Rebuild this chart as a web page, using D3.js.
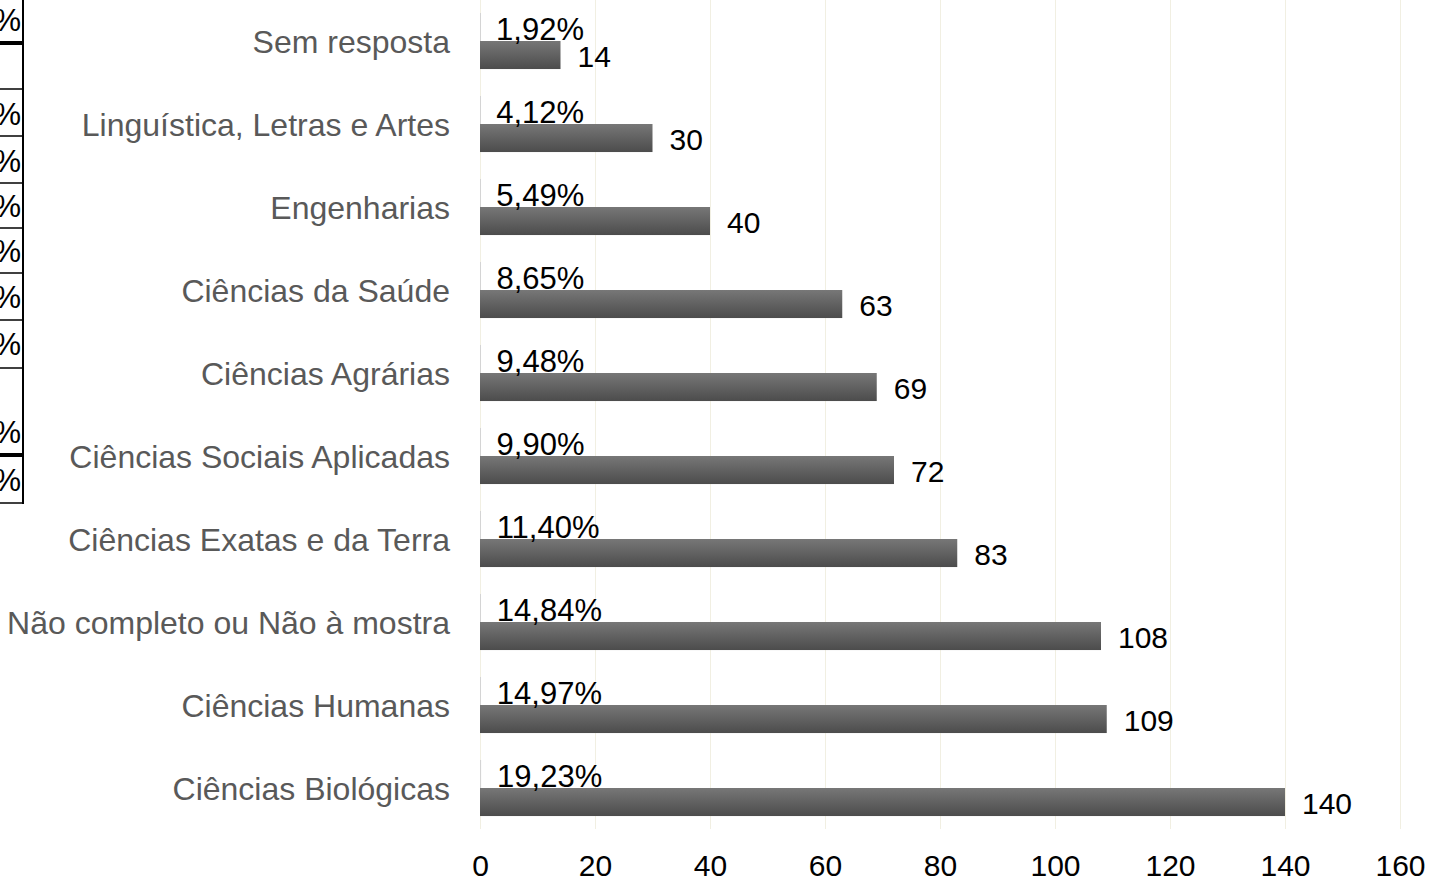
<!DOCTYPE html>
<html>
<head>
<meta charset="utf-8">
<script src="https://cdn.jsdelivr.net/npm/d3@7"></script>
<style>
  html, body { margin: 0; padding: 0; background: #fff; }
  svg { display: block; }
  text { font-family: "Liberation Sans", Arial, sans-serif; }
</style>
</head>
<body>
<svg id="chart" width="1432" height="882"></svg>
<script>
// ---- data ----
const categories = [
  "Sem resposta",
  "Linguística, Letras e Artes",
  "Engenharias",
  "Ciências da Saúde",
  "Ciências Agrárias",
  "Ciências Sociais Aplicadas",
  "Ciências Exatas e da Terra",
  "Não completo ou Não à mostra",
  "Ciências Humanas",
  "Ciências Biológicas"
];
const counts = [14, 30, 40, 63, 69, 72, 83, 108, 109, 140];
const shares = [0.0192, 0.0412, 0.0549, 0.0865, 0.0948, 0.0990, 0.1140, 0.1484, 0.1497, 0.1923];
const shareLabels = ["1,92%", "4,12%", "5,49%", "8,65%", "9,48%", "9,90%", "11,40%", "14,84%", "14,97%", "19,23%"];
const xTicks = [0, 20, 40, 60, 80, 100, 120, 140, 160];
// fragment of a neighbouring table cut off at the left edge
const tableRowLines = [89, 136, 183, 228, 273, 320, 368, 503];
const tableThickLines = [43, 455];
const tablePctBaselines = [31, 125, 172, 217, 262, 308, 355, 443, 491];

const svg = d3.select("#chart");

const x = d3.scaleLinear().domain([0, 160]).range([480, 1400]);
const y = d3.scaleBand().domain(categories).range([-0.5, 829.5]).paddingInner(0).paddingOuter(0);
const sub = d3.scaleBand().domain(["share", "count"]).range([0, y.bandwidth()]).paddingInner(0).paddingOuter(0.48);

// gradient
const defs = svg.append("defs");
const grad = defs.append("linearGradient").attr("id", "barGrad")
  .attr("x1", 0).attr("y1", 0).attr("x2", 0).attr("y2", 1);
grad.append("stop").attr("offset", "0%").attr("stop-color", "#777777");
grad.append("stop").attr("offset", "100%").attr("stop-color", "#4c4c4c");

// gridlines
svg.append("g").selectAll("line").data(xTicks).join("line")
  .attr("x1", d => x(d) + 0.5).attr("x2", d => x(d) + 0.5)
  .attr("y1", 0).attr("y2", 829)
  .attr("stroke", "#f1efe2").attr("stroke-width", 1);

// x axis tick labels
const xAxis = d3.axisBottom(x).tickValues(xTicks).tickSize(0).tickPadding(0).tickFormat(d3.format("d"));
const gx = svg.append("g").attr("transform", "translate(0,876)").call(xAxis);
gx.select(".domain").remove();
gx.selectAll("text").attr("font-size", 30).attr("fill", "#000")
  .attr("font-family", "'Liberation Sans', Arial, sans-serif").attr("dy", "0");

// y axis labels
const yAxis = d3.axisLeft(y).tickSize(0).tickPadding(30);
const gy = svg.append("g").attr("transform", "translate(480,0)").call(yAxis);
gy.select(".domain").remove();
gy.selectAll("text").attr("font-size", 32).attr("fill", "#595959")
  .attr("font-family", "'Liberation Sans', Arial, sans-serif").attr("dy", "0.36em");

const rows = categories.map((c, i) => ({ c, count: counts[i], share: shares[i], label: shareLabels[i] }));
const g = svg.append("g");

// share bars (tiny)
g.selectAll("rect.share").data(rows).join("rect").attr("class", "share")
  .attr("x", x(0)).attr("y", d => y(d.c) + sub("share"))
  .attr("width", d => Math.max(1, x(d.share) - x(0))).attr("height", sub.bandwidth())
  .attr("fill", "#d4d4d4");

// count bars
g.selectAll("rect.count").data(rows).join("rect").attr("class", "count")
  .attr("x", x(0)).attr("y", d => y(d.c) + sub("count"))
  .attr("width", d => x(d.count) - x(0)).attr("height", sub.bandwidth())
  .attr("fill", "url(#barGrad)");

// share labels
g.selectAll("text.share").data(rows).join("text").attr("class", "share")
  .attr("x", d => x(d.share) + 16).attr("y", d => y(d.c) + sub("share") + sub.bandwidth() / 2 + 13)
  .attr("font-size", 31).attr("fill", "#000").text(d => d.label);

// count labels
g.selectAll("text.count").data(rows).join("text").attr("class", "count")
  .attr("x", d => x(d.count) + 17).attr("y", d => y(d.c) + sub("count") + sub.bandwidth() / 2 + 12)
  .attr("font-size", 30).attr("fill", "#000").text(d => d.count);

// left table fragment
const t = svg.append("g");
t.append("line").attr("x1", 23).attr("x2", 23).attr("y1", 0).attr("y2", 504)
  .attr("stroke", "#000").attr("stroke-width", 2);
t.selectAll("line.row").data(tableRowLines).join("line").attr("class", "row")
  .attr("x1", 0).attr("x2", 24).attr("y1", d => d).attr("y2", d => d)
  .attr("stroke", "#000").attr("stroke-width", 1.5);
t.selectAll("line.thick").data(tableThickLines).join("line").attr("class", "thick")
  .attr("x1", 0).attr("x2", 24).attr("y1", d => d).attr("y2", d => d)
  .attr("stroke", "#000").attr("stroke-width", 4);
t.selectAll("text").data(tablePctBaselines).join("text")
  .attr("x", 21).attr("y", d => d).attr("text-anchor", "end")
  .attr("font-size", 31).attr("fill", "#000").text("%");
</script>
</body>
</html>
